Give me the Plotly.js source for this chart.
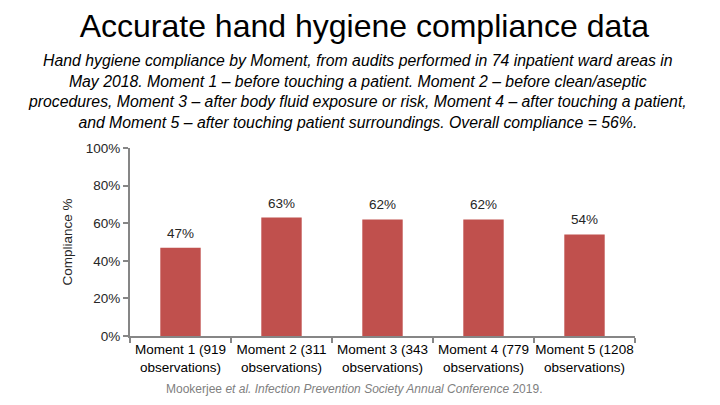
<!DOCTYPE html>
<html>
<head>
<meta charset="utf-8">
<script src="https://cdn.plot.ly/plotly-3.0.1.min.js"></script>
<style>
  html, body { margin: 0; padding: 0; background: #fff; }
  #chart { width: 720px; height: 405px; }
</style>
</head>
<body>
<div id="chart"></div>
<script>
// ─── data ───────────────────────────────────────────────
var moments = ['Moment 1', 'Moment 2', 'Moment 3', 'Moment 4', 'Moment 5'];
var observations = [919, 311, 343, 779, 1208];
var compliance = [0.47, 0.63, 0.62, 0.62, 0.54];
var yTicks = [0, 0.2, 0.4, 0.6, 0.8, 1.0];

var subtitle = 'Hand hygiene compliance by Moment, from audits performed in 74 inpatient ward areas in<br>' +
  'May 2018. Moment 1 – before touching a patient. Moment 2 – before clean/aseptic<br>' +
  'procedures, Moment 3 – after body fluid exposure or risk, Moment 4 – after touching a patient,<br>' +
  'and Moment 5 – after touching patient surroundings. Overall compliance = 56%.';

// labels wrap like the original: "(n" on line one, "observations)" on line two
var labels = moments.map(function (m, i) {
  return m + ' (' + observations[i] + '<br>observations)';
});

var FONT = 'Liberation Sans, Arial, sans-serif';
var AXIS = '#868686';

var trace = {
  type: 'bar',
  x: labels,
  y: compliance,
  width: 0.4,
  marker: { color: '#C0504D' },
  hoverinfo: 'x+y',
};

// value labels sit a little higher above the bars than plotly's default text
var valueLabels = labels.map(function (lab, i) {
  return {
    x: lab, y: compliance[i], xref: 'x', yref: 'y',
    text: Math.round(compliance[i] * 100) + '%',
    yanchor: 'bottom', yshift: 5, showarrow: false,
    font: { family: FONT, size: 13.5, color: '#262626' },
  };
});

var layout = {
  width: 720,
  height: 405,
  margin: { l: 130, r: 85, t: 148, b: 69 },
  paper_bgcolor: '#fff',
  plot_bgcolor: '#fff',
  showlegend: false,
  font: { family: FONT, color: '#262626' },
  title: {
    text: 'Accurate hand hygiene compliance data',
    font: { family: FONT, size: 32, color: '#000' },
    x: 0.506, xanchor: 'center',
    y: 0.936, yanchor: 'middle',
  },
  xaxis: {
    type: 'category',
    showline: true, linecolor: AXIS, linewidth: 2,
    ticks: 'outside', tickson: 'boundaries', ticklen: 5, tickcolor: AXIS, tickwidth: 2,
    tickangle: 0,
    tickfont: { family: FONT, size: 13.5, color: '#000' },
    showgrid: false,
    fixedrange: true,
  },
  yaxis: {
    range: [0, 1],
    tickvals: yTicks,
    tickformat: '.0%',
    showline: true, linecolor: AXIS, linewidth: 2,
    ticks: 'outside', ticklen: 5, tickcolor: AXIS, tickwidth: 2,
    tickfont: { family: FONT, size: 13.5, color: '#262626' },
    showgrid: false, zeroline: false,
    title: { text: 'Compliance %', font: { family: FONT, size: 13.5, color: '#262626' }, standoff: 10 },
    fixedrange: true,
  },
  annotations: valueLabels.concat([
    {
      text: '<i>' + subtitle + '</i>',
      xref: 'paper', yref: 'paper', x: 0.451, y: 1.298,
      xanchor: 'center', yanchor: 'middle',
      showarrow: false, align: 'center',
      font: { family: FONT, size: 15.8, color: '#000' },
    },
    {
      text: 'Mookerjee <i>et al. Infection Prevention Society Annual Conference</i> 2019.',
      xref: 'paper', yref: 'paper', x: 0.443, y: -0.282,
      xanchor: 'center', yanchor: 'middle',
      showarrow: false,
      font: { family: FONT, size: 12, color: '#808080' },
    },
  ]),
};

Plotly.newPlot('chart', [trace], layout, { displayModeBar: false, staticPlot: true });
</script>
</body>
</html>
